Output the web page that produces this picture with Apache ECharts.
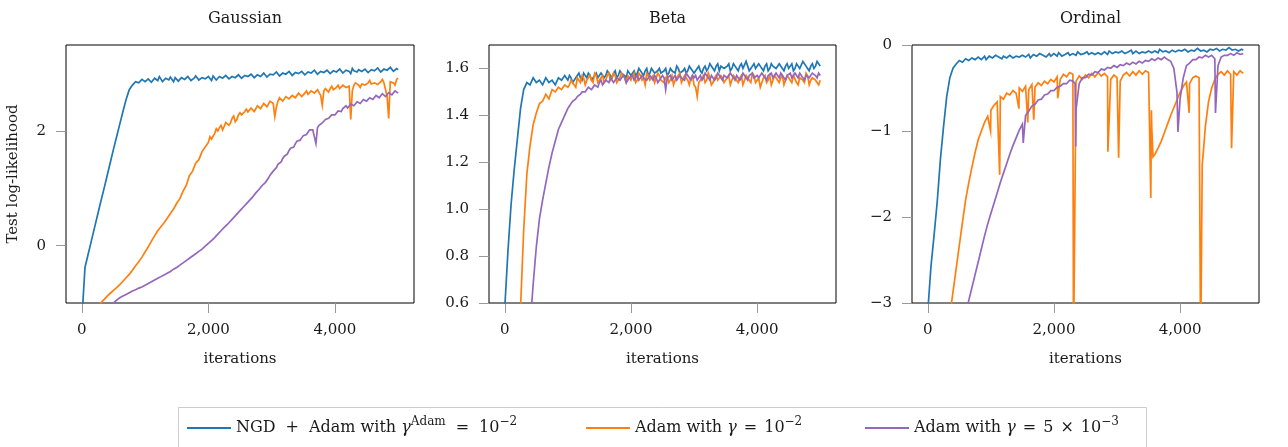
<!DOCTYPE html>
<html><head><meta charset="utf-8">
<script src="https://cdn.jsdelivr.net/npm/echarts@6/dist/echarts.min.js"></script>
<style>html,body{margin:0;padding:0;background:#fff}#c{width:1288px;height:447px}</style>
</head><body><div id="c"></div>
<script>
// ---------- data ----------
const STEP = 50; // main iteration grid 0..5000; "mid" arrays sit halfway between grid points
const iterations = Array.from({length: 101}, (_, i) => i * STEP);
const panelTitles = ['Gaussian', 'Beta', 'Ordinal'];
const seriesNames = ['NGD + Adam (1e-2)', 'Adam (1e-2)', 'Adam (5e-3)'];
const xTicks = [0, 2000, 4000];
const gaussYTicks = [0, 2];
const betaYTicks = [0.6, 0.8, 1.0, 1.2, 1.4, 1.6];
const ordYTicks = [-3, -2, -1, 0];

// Gaussian
const gaussNGD = [
 -1.3,-0.38,-0.15,0.08,0.31,0.54,0.77,0.99,1.22,1.45,
 1.68,1.90,2.12,2.34,2.55,2.72,2.80,2.86,2.84,2.90,
 2.86,2.91,2.85,2.92,2.88,2.93,2.87,2.90,2.94,2.86,
 2.91,2.89,2.95,2.88,2.92,2.90,2.96,2.89,2.93,2.91,
 2.95,2.88,2.94,2.92,2.97,2.90,2.94,2.93,2.97,2.91,
 2.96,2.93,2.99,2.92,2.97,2.95,3.00,2.93,2.98,2.96,
 3.02,2.95,3.00,2.97,3.03,2.96,3.01,2.98,3.03,2.97,
 3.02,2.99,3.04,2.98,3.03,3.00,3.05,2.99,3.04,3.01,
 3.06,3.00,3.05,3.02,3.08,3.00,3.05,3.03,3.07,3.01,
 3.06,3.03,3.09,3.02,3.07,3.04,3.10,3.03,3.08,3.04,
 3.07];
const gaussNGDMid = [ // iterations 1025..4975
 2.88,2.94,2.87,2.91,2.95,2.86,2.92,2.89,2.90,2.93,
 2.87,2.93,2.90,2.95,2.88,2.92,2.94,2.89,2.96,2.90,
 2.93,2.96,2.89,2.95,2.92,2.97,2.91,2.95,2.93,2.98,
 2.92,2.97,2.95,2.99,2.93,2.98,2.95,3.01,2.94,2.99,
 2.98,3.03,2.96,3.01,2.99,3.04,2.97,3.02,3.00,3.04,
 2.98,3.03,3.01,3.06,2.99,3.04,3.02,3.06,3.00,3.05,
 3.03,3.08,3.01,3.06,3.04,3.09,3.02,3.07,3.04,3.08,
 3.02,3.07,3.05,3.10,3.03,3.08,3.06,3.11,3.04,3.09];
const gaussAdam1 = [
 -1.6,-1.5,-1.4,-1.3,-1.2,-1.1,-1.0,-0.94,-0.88,-0.83,
 -0.78,-0.73,-0.68,-0.62,-0.56,-0.50,-0.43,-0.35,-0.28,-0.20,
 -0.11,-0.02,0.08,0.17,0.26,0.33,0.40,0.48,0.56,0.64,
 0.74,0.82,0.95,1.05,1.22,1.30,1.44,1.50,1.64,1.72,
 1.80,1.86,1.96,2.00,2.10,2.08,2.18,2.14,2.26,2.20,
 2.32,2.26,2.38,2.30,2.42,2.36,2.46,2.40,2.50,2.44,
 2.54,2.25,2.52,2.58,2.50,2.62,2.55,2.64,2.58,2.68,
 2.60,2.70,2.62,2.72,2.65,2.74,2.45,2.74,2.68,2.78,
 2.70,2.80,2.72,2.82,2.74,2.20,2.80,2.86,2.76,2.84,
 2.78,2.88,2.80,2.86,2.78,2.90,2.82,2.22,2.88,2.80,
 2.92];
const gaussAdam1Mid = [ // iterations 2025..4975
 1.90,1.88,2.04,2.06,2.02,2.15,2.10,2.22,2.16,2.28,
 2.28,2.34,2.33,2.40,2.34,2.44,2.39,2.48,2.42,2.52,
 2.48,2.42,2.58,2.52,2.60,2.56,2.62,2.58,2.66,2.60,
 2.66,2.64,2.70,2.66,2.72,2.62,2.70,2.72,2.74,2.72,
 2.76,2.74,2.80,2.76,2.78,2.70,2.84,2.80,2.82,2.80,
 2.84,2.82,2.84,2.81,2.86,2.84,2.60,2.86,2.84,2.90];
const gaussAdam2 = [
 -1.50,-1.45,-1.40,-1.35,-1.30,-1.25,-1.19,-1.14,-1.09,-1.04,
 -1.00,-0.95,-0.91,-0.88,-0.85,-0.82,-0.79,-0.77,-0.74,-0.72,
 -0.69,-0.66,-0.63,-0.60,-0.57,-0.54,-0.51,-0.48,-0.45,-0.41,
 -0.38,-0.34,-0.30,-0.26,-0.22,-0.18,-0.14,-0.10,-0.06,-0.01,
 0.04,0.09,0.14,0.20,0.26,0.32,0.37,0.43,0.49,0.55,
 0.61,0.67,0.73,0.79,0.85,0.92,0.98,1.05,1.10,1.18,
 1.26,1.33,1.42,1.46,1.56,1.60,1.70,1.72,1.82,1.84,
 1.92,1.94,2.02,2.02,1.78,2.10,2.14,2.20,2.22,2.28,
 2.28,2.35,2.34,2.42,2.40,2.47,2.44,2.51,2.48,2.55,
 2.52,2.58,2.55,2.62,2.58,2.65,2.60,2.67,2.63,2.70,
 2.66];
const gaussAdam2Mid = [ // iterations 2925..4975
 1.13,1.23,
 1.30,1.36,1.44,1.52,1.57,1.66,1.70,1.78,1.80,1.88,
 1.90,1.98,2.00,2.04,2.06,2.13,2.16,2.22,2.24,2.30,
 2.31,2.37,2.39,2.44,2.43,2.49,2.47,2.53,2.50,2.56,
 2.55,2.60,2.57,2.63,2.61,2.66,2.62,2.69,2.65,2.71];

// Beta
const betaNGD = [
 0.58,0.82,1.02,1.17,1.30,1.43,1.51,1.54,1.53,1.56,
 1.54,1.55,1.53,1.56,1.54,1.55,1.53,1.56,1.55,1.57,
 1.55,1.56,1.55,1.57,1.56,1.58,1.56,1.57,1.56,1.58,
 1.56,1.58,1.57,1.58,1.56,1.59,1.57,1.58,1.57,1.59,
 1.57,1.59,1.58,1.59,1.57,1.60,1.58,1.59,1.58,1.60,
 1.58,1.60,1.58,1.59,1.58,1.60,1.58,1.60,1.59,1.60,
 1.58,1.60,1.59,1.60,1.59,1.62,1.60,1.61,1.59,1.61,
 1.60,1.62,1.60,1.61,1.59,1.62,1.60,1.61,1.60,1.62,
 1.60,1.61,1.59,1.62,1.60,1.61,1.60,1.62,1.60,1.61,
 1.60,1.62,1.60,1.61,1.60,1.62,1.60,1.61,1.60,1.63,
 1.61];
const betaNGDMid = [ // iterations 1025..4975
 1.57,1.54,1.56,1.58,1.55,1.57,1.58,1.55,1.57,1.56,
 1.58,1.56,1.59,1.57,1.58,1.56,1.59,1.58,1.56,1.58,
 1.58,1.57,1.60,1.58,1.59,1.57,1.60,1.58,1.59,1.58,
 1.59,1.57,1.60,1.59,1.61,1.58,1.59,1.58,1.61,1.59,
 1.59,1.61,1.58,1.61,1.60,1.62,1.59,1.62,1.61,1.60,
 1.61,1.59,1.62,1.60,1.61,1.60,1.63,1.59,1.61,1.60,
 1.62,1.60,1.61,1.59,1.62,1.61,1.60,1.62,1.59,1.62,
 1.61,1.59,1.62,1.60,1.63,1.61,1.59,1.62,1.61,1.62];
const betaAdam1 = [
 0.10,0.18,0.26,0.33,0.40,0.58,0.91,1.15,1.27,1.36,
 1.41,1.45,1.46,1.49,1.47,1.51,1.50,1.52,1.51,1.53,
 1.52,1.55,1.53,1.56,1.54,1.56,1.55,1.57,1.54,1.57,
 1.55,1.57,1.55,1.58,1.56,1.57,1.55,1.58,1.56,1.57,
 1.55,1.58,1.55,1.57,1.56,1.58,1.55,1.57,1.54,1.57,
 1.55,1.56,1.54,1.57,1.55,1.56,1.54,1.57,1.55,1.56,
 1.53,1.48,1.55,1.57,1.55,1.56,1.54,1.57,1.55,1.56,
 1.54,1.57,1.55,1.56,1.54,1.57,1.55,1.56,1.54,1.57,
 1.55,1.52,1.56,1.54,1.57,1.55,1.56,1.54,1.57,1.55,
 1.56,1.54,1.57,1.53,1.56,1.54,1.57,1.55,1.56,1.54,
 1.55];
const betaAdam1Mid = [ // iterations 1025..4975
 1.53,1.55,1.52,1.55,1.57,1.53,1.56,1.55,1.58,1.54,
 1.56,1.54,1.57,1.55,1.58,1.54,1.56,1.57,1.54,1.56,
 1.57,1.54,1.58,1.55,1.53,1.57,1.56,1.54,1.58,1.55,
 1.54,1.57,1.55,1.53,1.56,1.58,1.54,1.56,1.53,1.57,
 1.52,1.54,1.56,1.54,1.58,1.53,1.56,1.55,1.57,1.54,
 1.56,1.53,1.57,1.55,1.56,1.53,1.57,1.55,1.58,1.54,
 1.56,1.54,1.57,1.55,1.53,1.57,1.55,1.56,1.53,1.57,
 1.55,1.57,1.54,1.56,1.55,1.58,1.53,1.56,1.55,1.53];
const betaAdam2 = [
 -0.60,-0.45,-0.30,-0.15,0.00,0.12,0.25,0.38,0.50,0.68,
 0.84,0.96,1.04,1.11,1.18,1.24,1.29,1.34,1.37,1.40,
 1.43,1.45,1.46,1.48,1.49,1.50,1.51,1.52,1.52,1.53,
 1.54,1.53,1.55,1.54,1.55,1.54,1.56,1.55,1.56,1.55,
 1.56,1.55,1.57,1.55,1.56,1.55,1.57,1.55,1.56,1.55,
 1.57,1.51,1.56,1.55,1.57,1.55,1.56,1.55,1.57,1.55,
 1.56,1.55,1.57,1.56,1.57,1.55,1.57,1.56,1.57,1.55,
 1.57,1.56,1.57,1.55,1.57,1.56,1.57,1.55,1.57,1.56,
 1.57,1.56,1.57,1.55,1.57,1.56,1.58,1.56,1.57,1.55,
 1.57,1.56,1.58,1.56,1.57,1.55,1.57,1.56,1.58,1.56,
 1.57];
const betaAdam2Mid = [ // iterations 1025..4975
 1.44,1.46,1.47,1.48,1.50,1.50,1.52,1.51,1.53,1.52,
 1.55,1.54,1.55,1.56,1.54,1.56,1.55,1.57,1.54,1.56,
 1.57,1.56,1.55,1.57,1.56,1.55,1.56,1.57,1.54,1.56,
 1.56,1.56,1.57,1.56,1.55,1.57,1.56,1.58,1.56,1.57,
 1.57,1.56,1.55,1.58,1.56,1.57,1.55,1.58,1.56,1.57,
 1.56,1.58,1.56,1.57,1.55,1.58,1.56,1.57,1.58,1.56,
 1.56,1.58,1.56,1.57,1.58,1.56,1.57,1.58,1.56,1.57,
 1.58,1.56,1.57,1.58,1.56,1.57,1.56,1.58,1.57,1.58];

// Ordinal
const ordNGD = [
 -3.10,-2.58,-2.21,-1.82,-1.33,-0.95,-0.60,-0.38,-0.27,-0.22,
 -0.18,-0.20,-0.16,-0.18,-0.15,-0.17,-0.14,-0.17,-0.13,-0.16,
 -0.14,-0.16,-0.12,-0.15,-0.13,-0.15,-0.12,-0.15,-0.13,-0.14,
 -0.12,-0.14,-0.11,-0.14,-0.12,-0.13,-0.11,-0.14,-0.12,-0.13,
 -0.10,-0.13,-0.11,-0.12,-0.10,-0.12,-0.10,-0.12,-0.09,-0.12,
 -0.10,-0.11,-0.09,-0.11,-0.09,-0.11,-0.08,-0.11,-0.09,-0.10,
 -0.08,-0.10,-0.08,-0.10,-0.08,-0.10,-0.07,-0.10,-0.08,-0.09,
 -0.07,-0.09,-0.07,-0.09,-0.07,-0.09,-0.06,-0.09,-0.07,-0.08,
 -0.06,-0.08,-0.06,-0.08,-0.06,-0.08,-0.05,-0.08,-0.06,-0.07,
 -0.05,-0.07,-0.05,-0.07,-0.05,-0.07,-0.04,-0.07,-0.05,-0.06,
 -0.06];
const ordNGDMid = [ // iterations 525..4975
 -0.16,-0.19,-0.15,-0.17,-0.14,-0.16,-0.13,-0.15,-0.17,-0.13,
 -0.15,-0.12,-0.14,-0.16,-0.12,-0.14,-0.11,-0.14,-0.12,-0.15,
 -0.11,-0.13,-0.15,-0.11,-0.13,-0.10,-0.12,-0.14,-0.10,-0.12,
 -0.11,-0.09,-0.13,-0.11,-0.09,-0.12,-0.10,-0.08,-0.11,-0.10,
 -0.08,-0.11,-0.09,-0.12,-0.08,-0.10,-0.09,-0.07,-0.10,-0.08,
 -0.09,-0.07,-0.10,-0.08,-0.06,-0.09,-0.08,-0.10,-0.07,-0.08,
 -0.06,-0.09,-0.07,-0.05,-0.08,-0.07,-0.09,-0.06,-0.08,-0.06,
 -0.07,-0.05,-0.08,-0.06,-0.07,-0.04,-0.07,-0.06,-0.08,-0.05,
 -0.06,-0.04,-0.07,-0.05,-0.06,-0.03,-0.06,-0.05,-0.07,-0.05];
const ordAdam1 = [
 -5.50,-5.10,-4.70,-4.35,-4.00,-3.70,-3.42,-3.14,-2.87,-2.60,
 -2.33,-2.06,-1.80,-1.60,-1.42,-1.25,-1.10,-1.00,-0.90,-0.83,
 -0.76,-0.70,-0.66,-0.60,-0.63,-0.56,-0.58,-0.53,-0.56,-0.50,
 -0.54,-0.48,-0.52,-0.46,-0.49,-0.44,-0.47,-0.42,-0.45,-0.40,
 -0.43,-0.37,-0.40,-0.34,-0.37,-0.32,-0.34,-0.42,-0.36,-0.40,
 -0.35,-0.38,-0.33,-0.37,-0.32,-0.36,-0.33,-0.37,-0.40,-0.35,
 -0.38,-0.42,-0.35,-0.32,-0.36,-0.31,-0.35,-0.30,-0.34,-0.30,
 -0.32,-0.95,-1.27,-1.20,-1.12,-1.02,-0.92,-0.82,-0.73,-0.64,
 -0.55,-0.48,-0.43,-0.45,-0.38,-0.36,-0.38,-1.40,-0.95,-0.66,
 -0.50,-0.40,-0.34,-0.31,-0.35,-0.30,-0.34,-0.31,-0.35,-0.30,
 -0.33];
const ordAdam1Spikes = [[995,-1.00],[1140,-1.51],[1445,-0.74],[1585,-0.90],[1680,-0.87],[2060,-0.62],
 [2310,-3.60],[2855,-1.24],[3025,-1.31],[3535,-1.78],[3545,-0.76],[3570,-1.30],[4143,-0.79],
 [4325,-3.60],[4340,-3.60],[4815,-1.20]];
const ordAdam2 = [
 -4.90,-4.75,-4.60,-4.45,-4.30,-4.15,-4.00,-3.87,-3.72,-3.57,
 -3.42,-3.27,-3.12,-2.97,-2.82,-2.67,-2.52,-2.37,-2.22,-2.08,
 -1.96,-1.84,-1.72,-1.60,-1.49,-1.38,-1.27,-1.17,-1.08,-0.99,
 -0.92,-0.82,-0.77,-0.71,-0.69,-0.64,-0.63,-0.58,-0.57,-0.53,
 -0.53,-0.49,-0.48,-0.45,-0.45,-0.41,-0.42,-0.75,-0.45,-0.38,
 -0.38,-0.34,-0.35,-0.31,-0.32,-0.28,-0.29,-0.26,-0.27,-0.24,
 -0.26,-0.23,-0.24,-0.21,-0.23,-0.20,-0.22,-0.19,-0.21,-0.18,
 -0.19,-0.16,-0.18,-0.15,-0.17,-0.14,-0.17,-0.19,-0.27,-0.55,
 -0.62,-0.38,-0.24,-0.21,-0.17,-0.17,-0.14,-0.15,-0.12,-0.14,
 -0.12,-0.16,-0.24,-0.14,-0.12,-0.12,-0.10,-0.12,-0.09,-0.11,
 -0.10];
const ordAdam2Spikes = [[1513,-1.14],[2335,-0.45],[2345,-1.18],[3965,-1.01],[4560,-0.79]];

// ---------- build ----------
const FONT = 'DejaVu Serif';
const TXT = '#1a1a1a';
const colors = ['#1f77b4', '#ff7f0e', '#9467bd'];
const panels = [
  {vals: [gaussNGD, gaussAdam1, gaussAdam2], mids: [[gaussNGDMid, 1025], [gaussAdam1Mid, 2025], [gaussAdam2Mid, 2925]],
   spikes: [[], [], []], min: -1, max: 3.5, ticks: gaussYTicks, fmt: v => String(v)},
  {vals: [betaNGD, betaAdam1, betaAdam2], mids: [[betaNGDMid, 1025], [betaAdam1Mid, 1025], [betaAdam2Mid, 1025]],
   spikes: [[], [], []], min: 0.6, max: 1.7, ticks: betaYTicks, fmt: v => v.toFixed(1)},
  {vals: [ordNGD, ordAdam1, ordAdam2], mids: [[ordNGDMid, 525], [[], 0], [[], 0]],
   spikes: [[], ordAdam1Spikes, ordAdam2Spikes], min: -3, max: 0, ticks: ordYTicks,
   fmt: v => v === 0 ? '0' : '\u2212' + Math.abs(v)}
];
const gridLefts = [66, 489, 912];
const gridWidths = [348, 347, 347];

function buildData(vals, mid, spikes) {
  const pts = iterations.map((it, i) => [it, vals[i]])
    .concat(mid[0].map((v, i) => [mid[1] + i * STEP, v]))
    .concat(spikes);
  pts.sort((a, b) => a[0] - b[0]);
  return pts;
}

const grids = [], xAxes = [], yAxes = [], titles = [], series = [];
panels.forEach((p, k) => {
  grids.push({left: gridLefts[k], top: 45, width: gridWidths[k], height: 258, show: true,
    borderColor: '#000', borderWidth: 1, backgroundColor: 'transparent'});
  titles.push({text: panelTitles[k], left: gridLefts[k] + gridWidths[k] / 2, top: 6, textAlign: 'center',
    textStyle: {fontFamily: FONT, fontSize: 16, fontWeight: 'normal', color: TXT}});
  xAxes.push({type: 'value', gridIndex: k, min: -250, max: 5250,
    axisLine: {show: false, onZero: false}, splitLine: {show: false},
    axisTick: {show: true, length: 10, customValues: xTicks, lineStyle: {color: '#999', width: 1}},
    axisLabel: {customValues: xTicks, margin: 20, fontFamily: FONT, fontSize: 15, color: TXT,
      formatter: v => v.toLocaleString('en-US')},
    name: 'iterations', nameLocation: 'middle', nameGap: 49,
    nameTextStyle: {fontFamily: FONT, fontSize: 15, color: TXT}});
  const y = {type: 'value', gridIndex: k, min: p.min, max: p.max,
    axisLine: {show: false, onZero: false}, splitLine: {show: false},
    axisTick: {show: true, length: 10, customValues: p.ticks, lineStyle: {color: '#999', width: 1}},
    axisLabel: {customValues: p.ticks, margin: 20, fontFamily: FONT, fontSize: 15, color: TXT, formatter: p.fmt}};
  if (k === 0) {
    Object.assign(y, {name: 'Test log-likelihood', nameLocation: 'middle', nameGap: 45, nameRotate: 90,
      nameTextStyle: {fontFamily: FONT, fontSize: 15, color: TXT}});
  }
  yAxes.push(y);
  p.vals.forEach((v, s) => {
    series.push({type: 'line', name: seriesNames[s], xAxisIndex: k, yAxisIndex: k,
      data: buildData(v, p.mids[s], p.spikes[s]), showSymbol: false, symbol: 'none', clip: true,
      sampling: null, lineStyle: {color: colors[s], width: 1.7, join: 'miter'}, itemStyle: {color: colors[s]}, z: 2 + s});
  });
});

const legendRich = {
  r: {fontFamily: FONT, fontSize: 16, color: TXT, lineHeight: 24},
  i: {fontFamily: FONT, fontSize: 16, color: TXT, lineHeight: 24, fontStyle: 'italic'},
  g: {fontFamily: FONT, fontSize: 16, lineHeight: 24, width: 10},
  h: {fontFamily: FONT, fontSize: 16, lineHeight: 24, width: 7},
  s: {fontFamily: FONT, fontSize: 12, color: TXT, lineHeight: 12, verticalAlign: 'top'}
};
const legendText = {
  [seriesNames[0]]: '{r|NGD}{g| }{r|+}{g| }{r|Adam with }{i|\u03b3}{s|Adam}{g| }{r|=}{g| }{r|10}{s|\u22122}',
  [seriesNames[1]]: '{r|Adam with }{i|\u03b3}{h| }{r|=}{h| }{r|10}{s|\u22122}',
  [seriesNames[2]]: '{r|Adam with }{i|\u03b3}{h| }{r|=}{h| }{r|5}{h| }{r|\u00d7}{h| }{r|10}{s|\u22123}'
};
const legendLefts = [187, 586, 865];
const legends = seriesNames.map((n, i) => ({
  data: [n], left: legendLefts[i], top: 416, padding: 0, icon: 'rect', itemWidth: 44, itemHeight: 2,
  selectedMode: false,
  textStyle: {fontFamily: FONT, fontSize: 16, color: TXT, rich: legendRich},
  formatter: nm => legendText[nm]
}));

const chart = echarts.init(document.getElementById('c'), null, {renderer: 'canvas'});
chart.setOption({
  animation: false,
  backgroundColor: '#fff',
  title: titles,
  grid: grids,
  xAxis: xAxes,
  yAxis: yAxes,
  legend: legends,
  graphic: [{type: 'rect', silent: true, z: 0,
    shape: {x: 178.5, y: 407.5, width: 968, height: 60},
    style: {fill: 'none', stroke: '#cccccc', lineWidth: 1}}],
  series: series
});
</script></body></html>
